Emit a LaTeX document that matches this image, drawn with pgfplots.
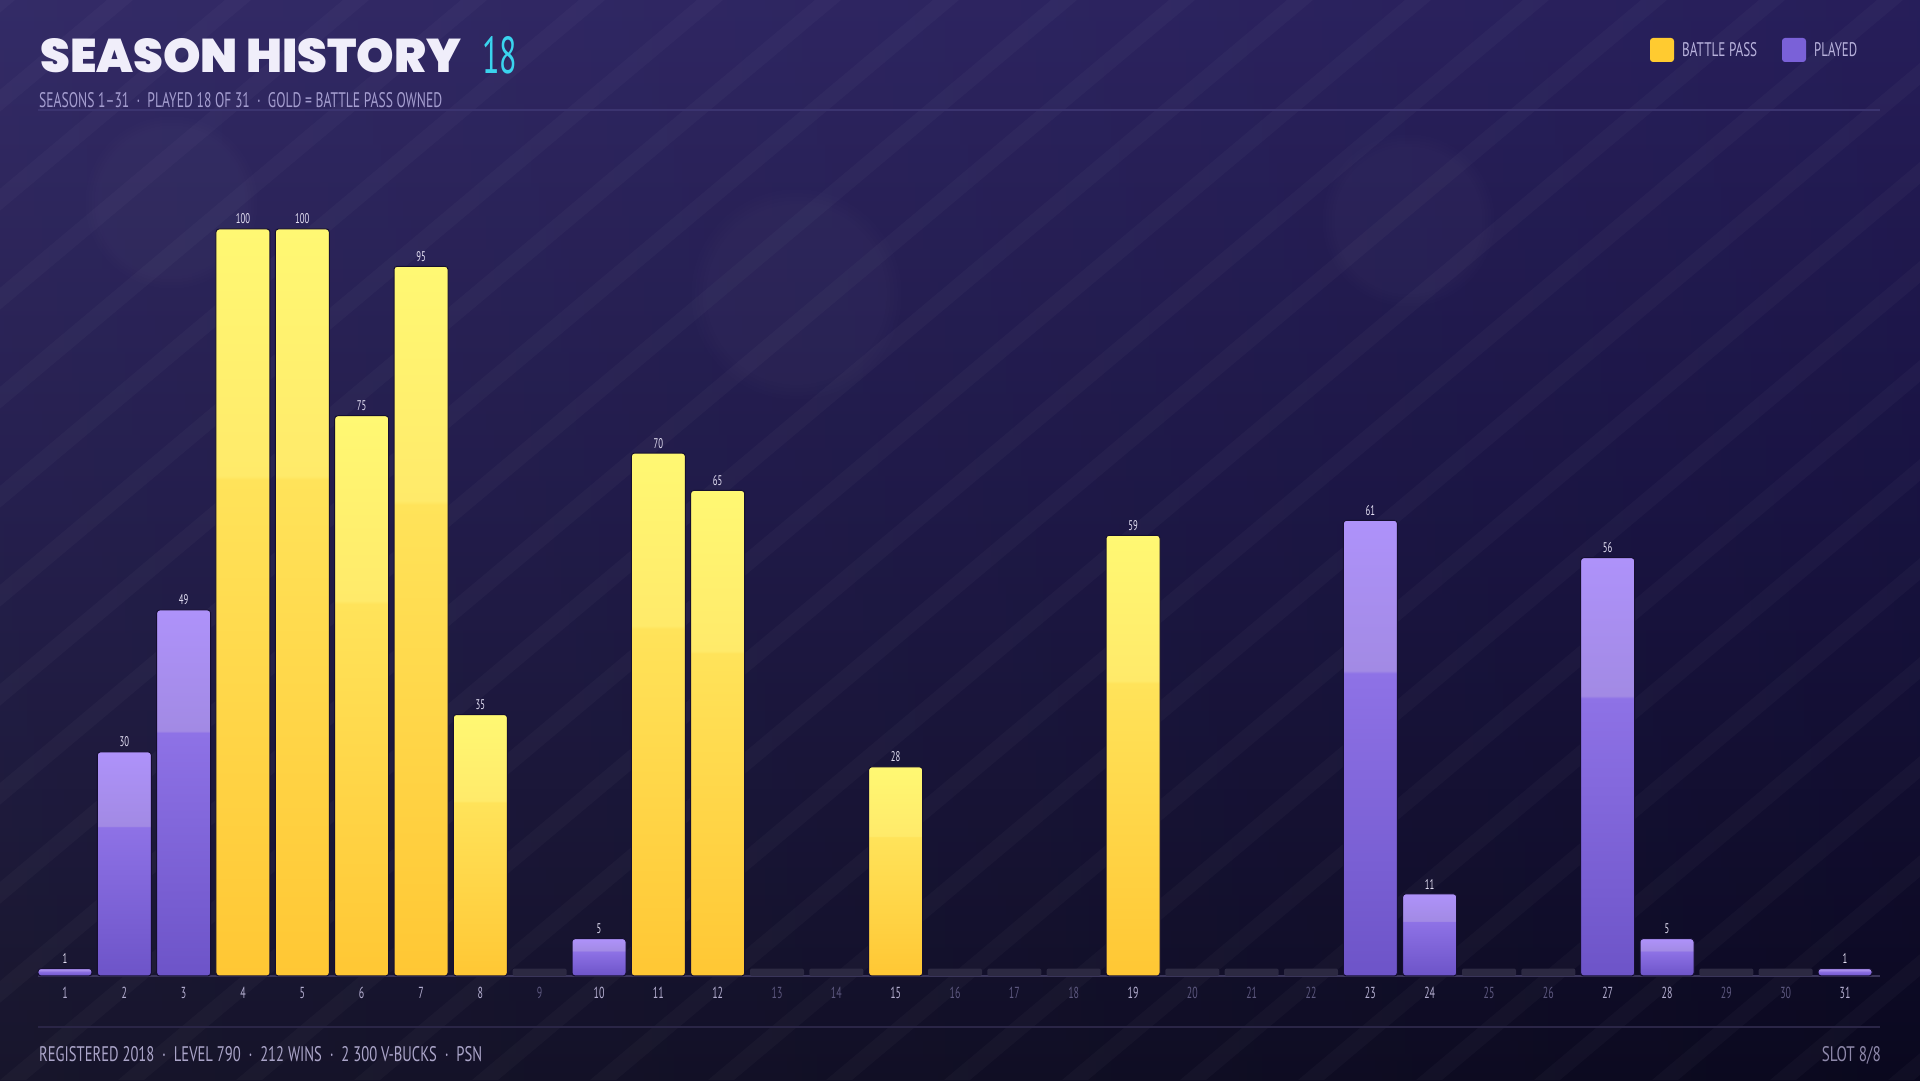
\documentclass[border=0pt]{standalone}
\usepackage{pgfplots}
\pgfplotsset{compat=1.18}
\usepackage{fontspec}
\usepackage{graphicx}
\usetikzlibrary{fadings}
\setmainfont{PT Sans}
\newfontfamily\condfont{PT Sans}[FakeStretch=0.62]
\IfFontExistsTF{Poppins Black}{\newfontfamily\titlefont{Poppins Black}}{\newfontfamily\titlefont{Poppins}[FakeBold=2]}

\definecolor{bgtop}{HTML}{29205F}
\definecolor{bgmid}{HTML}{1A1445}
\definecolor{bgbot}{HTML}{0B0920}
\definecolor{goldbot}{HTML}{FFC734}
\definecolor{goldmid}{HTML}{FFE35A}
\definecolor{goldband}{HTML}{FFEA6A}
\definecolor{goldtop}{HTML}{FFF873}
\definecolor{purbot}{HTML}{6D54C8}
\definecolor{purmid}{HTML}{8E72E6}
\definecolor{purband}{HTML}{A28AE4}
\definecolor{purtop}{HTML}{AE92FA}
\definecolor{emptybar}{HTML}{2C2942}
\definecolor{baredge}{HTML}{150F30}
\definecolor{baseline}{HTML}{3A355A}
\definecolor{tickon}{HTML}{B4AED0}
\definecolor{tickoff}{HTML}{5C577E}
\definecolor{valtxt}{HTML}{E4E0F4}
\definecolor{titlecol}{HTML}{F0EEFA}
\definecolor{cyan18}{HTML}{3AD4EE}
\definecolor{subcol}{HTML}{A59ED0}
\definecolor{legcol}{HTML}{B8B2DC}
\definecolor{legGold}{HTML}{FFCB30}
\definecolor{legPur}{HTML}{7A61D8}
\definecolor{footcol}{HTML}{ABA5C9}
\definecolor{slotcol}{HTML}{8E88AA}
\definecolor{rulecol}{HTML}{3B3470}
\definecolor{footrule}{HTML}{2A2546}

\pgfdeclareverticalshading{goldbar}{100bp}{color(0bp)=(goldbot); color(25bp)=(goldbot); color(58.2bp)=(goldmid); color(58.5bp)=(goldband); color(75bp)=(goldtop); color(100bp)=(goldtop)}
\pgfdeclareverticalshading{purbar}{100bp}{color(0bp)=(purbot); color(25bp)=(purbot); color(58.2bp)=(purmid); color(58.5bp)=(purband); color(75bp)=(purtop); color(100bp)=(purtop)}
\pgfdeclareverticalshading{bgshade}{100bp}{color(0bp)=(bgbot); color(25bp)=(bgbot); color(52bp)=(bgmid); color(75bp)=(bgtop); color(100bp)=(bgtop)}

\pgfplotsset{
  gold bar/.style={ybar, bar width=54bp, bar shift=0pt, draw=baredge, line width=1bp, shading=goldbar, rounded corners=3bp, nodes near coords},
  purple bar/.style={ybar, bar width=54bp, bar shift=0pt, draw=baredge, line width=1bp, shading=purbar, rounded corners=3bp, nodes near coords},
}

\begin{document}
\begin{tikzpicture}[x=1bp,y=1bp]
\useasboundingbox (0,0) rectangle (1920,1080);
% background
\shade[shading=bgshade] (0,0) rectangle (1920,1080);
\shade[left color=white, right color=black, opacity=0.05] (0,0) rectangle (1920,1080);
\begin{scope}
\clip (0,0) rectangle (1920,1080);
\foreach \i in {-12,...,18} {
  \fill[white, opacity=0.028] (\i*118,0) -- ++(26,0) -- ++(1287,1080) -- ++(-26,0) -- cycle;
}
\fill[white, opacity=0.025, path fading=circle with fuzzy edge 20 percent] (796,786) circle (110);
\fill[white, opacity=0.025, path fading=circle with fuzzy edge 20 percent] (171,878) circle (90);
\fill[white, opacity=0.025, path fading=circle with fuzzy edge 20 percent] (1408,860) circle (90);
\end{scope}

\begin{axis}[
  at={(38bp,104bp)}, anchor=south west,
  scale only axis, width=1842bp, height=747bp,
  xmin=0.545, xmax=31.59, ymin=0, ymax=100,
  axis x line*=bottom, axis y line=none,
  x axis line style={draw=baseline, line width=1.5bp, -},
  xtick={1,...,31},
  xticklabels={1,2,3,4,5,6,7,8,\textcolor{tickoff}{9},10,11,12,\textcolor{tickoff}{13},\textcolor{tickoff}{14},15,\textcolor{tickoff}{16},\textcolor{tickoff}{17},\textcolor{tickoff}{18},19,\textcolor{tickoff}{20},\textcolor{tickoff}{21},\textcolor{tickoff}{22},23,24,\textcolor{tickoff}{25},\textcolor{tickoff}{26},27,28,\textcolor{tickoff}{29},\textcolor{tickoff}{30},31},
  major tick length=0pt,
  xticklabel style={font=\condfont\fontsize{16bp}{17bp}\selectfont, text=tickon, yshift=-8bp},
  ytick=\empty,
  clip=false,
  /pgf/number format/assume math mode=true,
  every node near coord/.style={font=\condfont\fontsize{14bp}{15bp}\selectfont, text=valtxt, anchor=south, yshift=1bp},
]
% empty seasons
\addplot[ybar, bar width=54bp, bar shift=0pt, draw=none, fill=emptybar, rounded corners=2bp]
  coordinates {(9,1) (13,1) (14,1) (16,1) (17,1) (18,1) (20,1) (21,1) (22,1) (25,1) (26,1) (29,1) (30,1)};
% battle pass seasons
\addplot[gold bar] coordinates {(4,100)};
\addplot[gold bar] coordinates {(5,100)};
\addplot[gold bar] coordinates {(6,75)};
\addplot[gold bar] coordinates {(7,95)};
\addplot[gold bar] coordinates {(8,35)};
\addplot[gold bar] coordinates {(11,70)};
\addplot[gold bar] coordinates {(12,65)};
\addplot[gold bar] coordinates {(15,28)};
\addplot[gold bar] coordinates {(19,59)};
% played seasons
\addplot[purple bar] coordinates {(1,1)};
\addplot[purple bar] coordinates {(2,30)};
\addplot[purple bar] coordinates {(3,49)};
\addplot[purple bar] coordinates {(10,5)};
\addplot[purple bar] coordinates {(23,61)};
\addplot[purple bar] coordinates {(24,11)};
\addplot[purple bar] coordinates {(27,56)};
\addplot[purple bar] coordinates {(28,5)};
\addplot[purple bar] coordinates {(31,1)};
\end{axis}

% header
\node[anchor=south west, inner sep=0, text=titlecol] at (40,1007) {\resizebox{421bp}{34bp}{\titlefont SEASON HISTORY}};
\node[anchor=south west, inner sep=0, text=cyan18] at (482,1006) {\resizebox{35bp}{37bp}{\condfont 18}};
\node[anchor=base west, inner sep=0, text=subcol] at (39,972) {\resizebox{403bp}{15bp}{\condfont SEASONS 1–31\ \ ·\ \ PLAYED 18 OF 31\ \ ·\ \ GOLD = BATTLE PASS OWNED}};
\draw[rulecol, line width=1.2bp] (38,970) -- (1880,970);
% legend
\fill[legGold, rounded corners=3bp] (1650,1018) rectangle (1674,1042);
\node[anchor=base west, inner sep=0, text=legcol] at (1682,1023) {\resizebox{75bp}{14bp}{\condfont BATTLE PASS}};
\fill[legPur, rounded corners=3bp] (1782,1018) rectangle (1806,1042);
\node[anchor=base west, inner sep=0, text=legcol] at (1814,1023) {\resizebox{43bp}{14bp}{\condfont PLAYED}};
% footer
\draw[footrule, line width=1.2bp] (38,53) -- (1880,53);
\node[anchor=base west, inner sep=0, text=footcol] at (39,19) {\resizebox{443bp}{15bp}{\condfont REGISTERED 2018\ \ ·\ \ LEVEL 790\ \ ·\ \ 212 WINS\ \ ·\ \ 2\,300 V-BUCKS\ \ ·\ \ PSN}};
\node[anchor=base east, inner sep=0, text=slotcol] at (1881,19) {\resizebox{59bp}{15bp}{\condfont SLOT 8/8}};
\end{tikzpicture}
\end{document}
